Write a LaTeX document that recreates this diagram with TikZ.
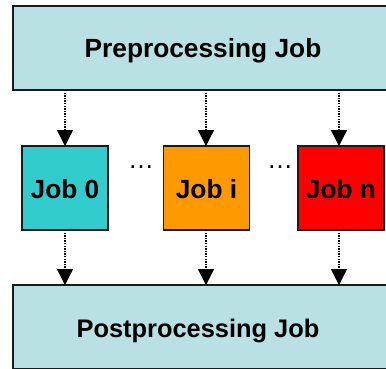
\documentclass[tikz,border=0pt]{standalone}
\usepackage{fontspec}
\setmainfont{Liberation Sans}
\usetikzlibrary{arrows.meta}
\definecolor{boxblue}{HTML}{B9E0E3}
\definecolor{jteal}{HTML}{33CCCC}
\definecolor{jorange}{HTML}{FF9900}
\definecolor{jred}{HTML}{FF0000}
\definecolor{edge}{HTML}{1A1A1A}
\tikzset{
  bigbox/.style={draw=edge, line width=1.6pt, fill=boxblue, inner sep=0pt, outer sep=0pt, minimum height=84pt},
  jobbox/.style={draw=edge, line width=1.6pt, inner sep=0pt, outer sep=0pt, minimum width=86pt, minimum height=84pt},
  lbl/.style={font=\fontsize{26.3}{30}\selectfont\bfseries, anchor=base, inner sep=0pt},
  postlbl/.style={font=\fontsize{25.4}{30}\selectfont\bfseries, anchor=base, inner sep=0pt},
  dots/.style={font=\fontsize{26}{30}\selectfont, anchor=base, inner sep=0pt},
  conn/.style={line width=1.3pt, dash pattern=on 1.3pt off 1.3pt, -{Triangle[length=16pt,width=16pt]}}
}
\begin{document}
\begin{tikzpicture}[x=1pt,y=-1pt]
\useasboundingbox (0,0) rectangle (386,368);
\clip (0,0) rectangle (386,368);
% boxes
\node[bigbox, minimum width=390pt] (pre) at (208,48) {};
\node[bigbox, minimum width=390pt] (post) at (208,327) {};
\node[jobbox, fill=jteal] (j0) at (65,188) {};
\node[jobbox, fill=jorange] (ji) at (206.5,188) {};
\node[jobbox, fill=jred] (jn) at (341,188) {};
% labels
\node[lbl] (pretext) at (203,57) {Preprocessing Job};
\node[postlbl] (posttext) at (198,337) {Postprocessing Job};
\node[lbl] (j0text) at (65,198) {Job 0};
\node[lbl] (jitext) at (206.5,198) {Job i};
\node[lbl] (jntext) at (341,198) {Job n};
\node[dots] (d1) at (141,168) {…};
\node[dots] (d2) at (280,168) {…};
% arrow columns
\coordinate (c0) at (65,0);
\coordinate (c1) at (206,0);
\coordinate (c2) at (339,0);
\draw[conn] (pre.south -| c0) -- (j0.north -| c0);
\draw[conn] (pre.south -| c1) -- (ji.north -| c1);
\draw[conn] (pre.south -| c2) -- (jn.north -| c2);
\draw[conn] (j0.south -| c0) -- (post.north -| c0);
\draw[conn] (ji.south -| c1) -- (post.north -| c1);
\draw[conn] (jn.south -| c2) -- (post.north -| c2);
\end{tikzpicture}
\end{document}
